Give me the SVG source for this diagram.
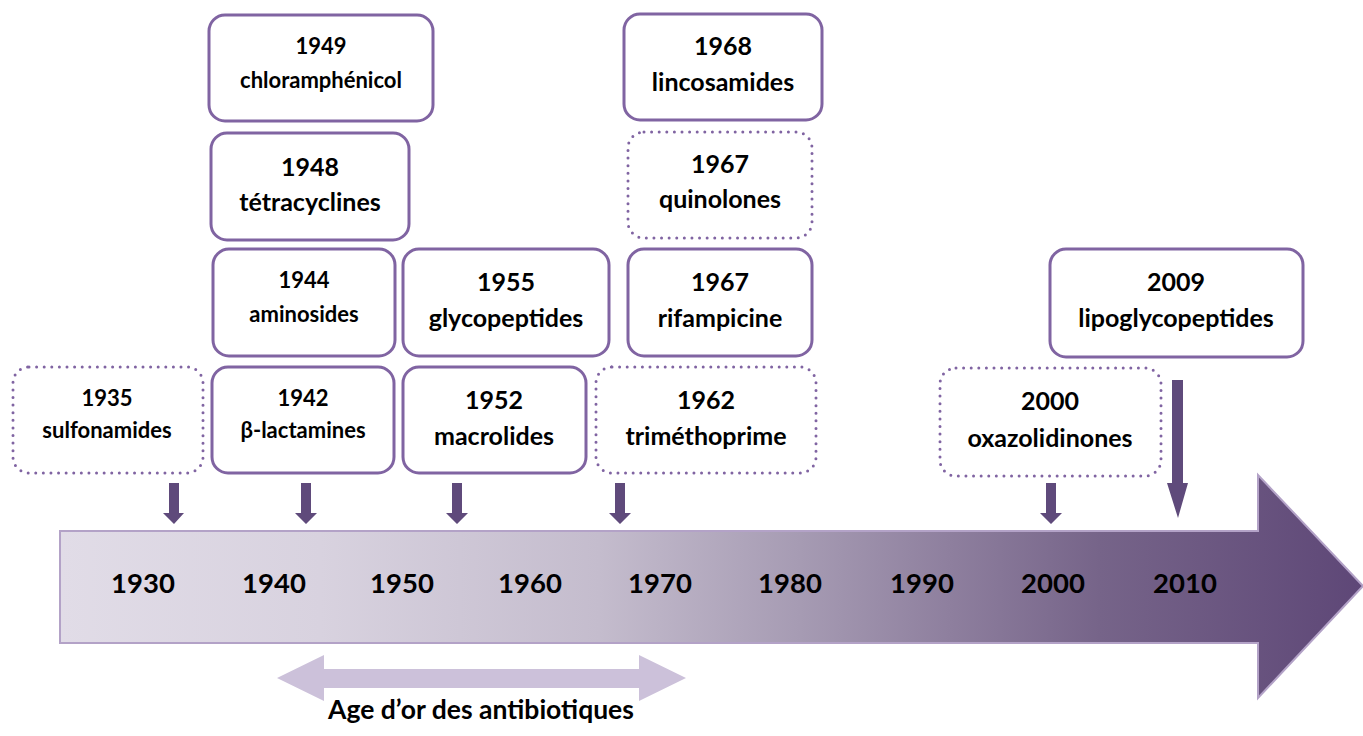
<svg xmlns="http://www.w3.org/2000/svg" width="1363" height="736" viewBox="0 0 1363 736">
<defs>
<linearGradient id="bigGrad" gradientUnits="userSpaceOnUse" x1="60" y1="0" x2="1363" y2="0">
<stop offset="0" stop-color="#e1dce7"/>
<stop offset="0.2" stop-color="#d8d2df"/>
<stop offset="0.414" stop-color="#c4bccd"/>
<stop offset="0.568" stop-color="#a69bb3"/>
<stop offset="0.683" stop-color="#8e7f9e"/>
<stop offset="0.798" stop-color="#766489"/>
<stop offset="1" stop-color="#5e4777"/>
</linearGradient>
<style>
.box{fill:#ffffff;stroke:#8064a2;stroke-width:3;}
.dot{fill:#ffffff;stroke:#8064a2;stroke-width:3;stroke-dasharray:0 7.6;stroke-linecap:round;}
.t{font-family:Lato,"Open Sans","Liberation Sans",sans-serif;font-weight:bold;fill:#000000;text-anchor:middle;}
.s{font-size:22px;}
.l{font-size:25px;}
.yr{font-size:27.5px;}
.down{fill:#5f4a7b;}
</style>
</defs>

<g id="timeline">
<path d="M60,531 L1258,531 L1258,475 L1363,586 L1258,698 L1258,643 L60,643 Z" fill="url(#bigGrad)" stroke="#b3a2c7" stroke-width="2"/>
<text class="t yr" x="143" y="593">1930</text>
<text class="t yr" x="274" y="593">1940</text>
<text class="t yr" x="402" y="593">1950</text>
<text class="t yr" x="530" y="593">1960</text>
<text class="t yr" x="660" y="593">1970</text>
<text class="t yr" x="790" y="593">1980</text>
<text class="t yr" x="922" y="593">1990</text>
<text class="t yr" x="1053" y="593">2000</text>
<text class="t yr" x="1185" y="593">2010</text>
</g>

<g id="golden-age">
<path d="M277,678 L324,655 L324,669 L639,669 L639,655 L686,678 L639,701 L639,688 L324,688 L324,701 Z" fill="#ccc1da"/>
<text class="t" style="font-size:26.5px" x="481" y="719">Age d’or des antibiotiques</text>
</g>

<g id="connectors">
<path class="down" d="M169,483 H179 V513 H184 L174,524 L163,513 H169 Z"/>
<path class="down" d="M301,483 H311 V513 H317 L306,524 L295,513 H301 Z"/>
<path class="down" d="M452,483 H462 V513 H468 L457,524 L446,513 H452 Z"/>
<path class="down" d="M615,483 H625 V513 H631 L620,524 L609,513 H615 Z"/>
<path class="down" d="M1046,483 H1056 V513 H1062 L1051,524 L1040,513 H1046 Z"/>
<path class="down" d="M1172,380 H1183 V483 H1188 L1178,518 L1167,483 H1172 Z"/>
</g>

<g id="n1935">
<rect class="dot" x="13" y="367" width="190" height="106" rx="16"/>
<text class="t s" x="107" y="406">1935</text>
<text class="t s" x="107" y="438">sulfonamides</text>
</g>
<g id="n1942">
<rect class="box" x="212" y="367" width="182" height="106" rx="16"/>
<text class="t s" x="303" y="406">1942</text>
<text class="t s" x="303" y="438">β-lactamines</text>
</g>
<g id="n1944">
<rect class="box" x="213" y="249" width="182" height="107" rx="16"/>
<text class="t s" x="304" y="288">1944</text>
<text class="t s" x="304" y="322">aminosides</text>
</g>
<g id="n1948">
<rect class="box" x="211" y="133" width="198" height="107" rx="16"/>
<text class="t l" x="310" y="176">1948</text>
<text class="t l" x="310" y="211">tétracyclines</text>
</g>
<g id="n1949">
<rect class="box" x="209" y="15" width="224" height="106" rx="16"/>
<text class="t s" x="321" y="54">1949</text>
<text class="t s" x="321" y="88">chloramphénicol</text>
</g>
<g id="n1952">
<rect class="box" x="403" y="367" width="183" height="106" rx="16"/>
<text class="t l" x="494" y="409">1952</text>
<text class="t l" x="494" y="445">macrolides</text>
</g>
<g id="n1955">
<rect class="box" x="403" y="249" width="206" height="107" rx="16"/>
<text class="t l" x="506" y="291">1955</text>
<text class="t l" x="506" y="327">glycopeptides</text>
</g>
<g id="n1962">
<rect class="dot" x="596" y="367" width="220" height="106" rx="16"/>
<text class="t l" x="706" y="409">1962</text>
<text class="t l" x="706" y="445">triméthoprime</text>
</g>
<g id="n1967r">
<rect class="box" x="628" y="249" width="184" height="107" rx="16"/>
<text class="t l" x="720" y="291">1967</text>
<text class="t l" x="720" y="327">rifampicine</text>
</g>
<g id="n1967q">
<rect class="dot" x="628" y="132" width="184" height="106" rx="16"/>
<text class="t l" x="720" y="173">1967</text>
<text class="t l" x="720" y="208">quinolones</text>
</g>
<g id="n1968">
<rect class="box" x="624" y="14" width="198" height="106" rx="16"/>
<text class="t l" x="723" y="55">1968</text>
<text class="t l" x="723" y="91">lincosamides</text>
</g>
<g id="n2000">
<rect class="dot" x="940" y="368" width="221" height="108" rx="16"/>
<text class="t l" x="1050" y="410">2000</text>
<text class="t l" x="1050" y="447">oxazolidinones</text>
</g>
<g id="n2009">
<rect class="box" x="1050" y="249" width="253" height="108" rx="16"/>
<text class="t l" x="1176" y="291">2009</text>
<text class="t l" x="1176" y="327">lipoglycopeptides</text>
</g>
</svg>
